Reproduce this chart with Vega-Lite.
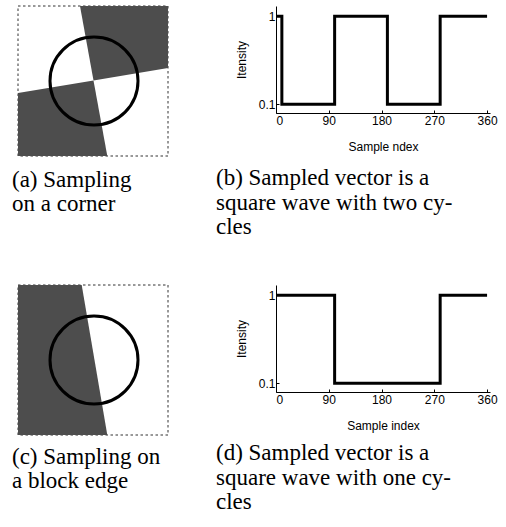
{
  "$schema": "https://vega.github.io/schema/vega-lite/v6.json",
  "background": "white",
  "padding": {"left": 12, "top": 4, "right": 0, "bottom": 0},
  "columns": 2,
  "spacing": {"column": 108, "row": 129},
  "bounds": "flush",
  "config": {
    "view": {"stroke": null},
    "title": {"font": "Liberation Serif", "fontSize": 23, "fontWeight": "normal", "color": "black", "anchor": "start", "frame": "group", "orient": "bottom", "baseline": "alphabetic", "lineHeight": 24.5},
    "axis": {"domainColor": "black", "tickColor": "black", "labelColor": "black", "titleColor": "black", "labelFont": "Liberation Sans", "titleFont": "Liberation Sans", "labelFontSize": 12, "titleFontSize": 12, "titleFontWeight": "normal", "grid": false, "tickSize": -3, "domainWidth": 1, "tickWidth": 1}
  },
  "datasets": {
    "border": [
      {"u": 0, "v": 0, "i": 0}, {"u": 150, "v": 0, "i": 1}, {"u": 150, "v": 150, "i": 2}, {"u": 0, "v": 150, "i": 3}, {"u": 0, "v": 0, "i": 4}
    ],
    "polyA": [
      {"part": "tr", "u": 62, "v": 0, "i": 0}, {"part": "tr", "u": 150, "v": 0, "i": 1}, {"part": "tr", "u": 150, "v": 62, "i": 2}, {"part": "tr", "u": 75.5, "v": 74.4, "i": 3},
      {"part": "bl", "u": 0, "v": 87, "i": 0}, {"part": "bl", "u": 75.5, "v": 74.4, "i": 1}, {"part": "bl", "u": 89.3, "v": 150, "i": 2}, {"part": "bl", "u": 0, "v": 150, "i": 3}
    ],
    "polyC": [
      {"part": "l", "u": 0, "v": 0, "i": 0}, {"part": "l", "u": 63.7, "v": 0, "i": 1}, {"part": "l", "u": 89.3, "v": 150, "i": 2}, {"part": "l", "u": 0, "v": 150, "i": 3}
    ],
    "circle": [{"u": 76, "v": 75}],
    "waveB": [
      {"x": 0, "y": 1, "i": 0}, {"x": 10, "y": 1, "i": 1}, {"x": 10, "y": 0.1, "i": 2}, {"x": 100, "y": 0.1, "i": 3}, {"x": 100, "y": 1, "i": 4},
      {"x": 190, "y": 1, "i": 5}, {"x": 190, "y": 0.1, "i": 6}, {"x": 280, "y": 0.1, "i": 7}, {"x": 280, "y": 1, "i": 8}, {"x": 360, "y": 1, "i": 9}
    ],
    "waveD": [
      {"x": 0, "y": 1, "i": 0}, {"x": 100, "y": 1, "i": 1}, {"x": 100, "y": 0.1, "i": 2}, {"x": 280, "y": 0.1, "i": 3}, {"x": 280, "y": 1, "i": 4}, {"x": 360, "y": 1, "i": 5}
    ]
  },
  "concat": [
    {
      "width": 150, "height": 150,
      "title": {"text": ["(a) Sampling", "on a corner"], "orient": "bottom", "dx": -6, "offset": 10.5},
      "layer": [
        {
          "data": {"name": "border"},
          "mark": {"type": "line", "strokeDash": [2.5, 2.5], "strokeWidth": 1, "color": "#333333"},
          "encoding": {
            "x": {"field": "u", "type": "quantitative", "scale": {"domain": [0, 150], "nice": false}, "axis": null},
            "y": {"field": "v", "type": "quantitative", "scale": {"domain": [0, 150], "nice": false, "reverse": true}, "axis": null},
            "order": {"field": "i"}
          }
        },
        {
          "data": {"name": "polyA"},
          "mark": {"type": "line", "filled": true, "color": "#4d4d4d", "strokeWidth": 0},
          "encoding": {
            "x": {"field": "u", "type": "quantitative"},
            "y": {"field": "v", "type": "quantitative"},
            "detail": {"field": "part"},
            "order": {"field": "i"}
          }
        },
        {
          "data": {"name": "circle"},
          "mark": {"type": "point", "shape": "circle", "size": 7744, "filled": false, "strokeWidth": 3, "color": "black", "opacity": 1},
          "encoding": {
            "x": {"field": "u", "type": "quantitative"},
            "y": {"field": "v", "type": "quantitative"}
          }
        }
      ]
    },
    {
      "width": 214, "height": 107,
      "title": {"text": ["(b) Sampled vector is a", "square wave with two cy-", "cles"], "orient": "bottom", "dx": -60, "offset": 15},
      "data": {"name": "waveB"},
      "mark": {"type": "line", "color": "black", "strokeWidth": 3, "strokeJoin": "miter"},
      "encoding": {
        "x": {"field": "x", "type": "quantitative", "scale": {"domain": [0, 365], "nice": false}, "axis": {"values": [0, 90, 180, 270, 360], "title": "Sample ndex", "format": "d", "labelPadding": 5, "titlePadding": 15}},
        "y": {"field": "y", "type": "quantitative", "scale": {"domain": [0.011, 1.105], "nice": false, "zero": false}, "axis": {"values": [0.1, 1], "title": "Itensity", "format": "~g", "labelPadding": 4, "titlePadding": 10}},
        "order": {"field": "i"}
      }
    },
    {
      "width": 150, "height": 150,
      "title": {"text": ["(c) Sampling on", "a block edge"], "orient": "bottom", "dx": -6, "offset": 8.5},
      "layer": [
        {
          "data": {"name": "border"},
          "mark": {"type": "line", "strokeDash": [2.5, 2.5], "strokeWidth": 1, "color": "#333333"},
          "encoding": {
            "x": {"field": "u", "type": "quantitative", "scale": {"domain": [0, 150], "nice": false}, "axis": null},
            "y": {"field": "v", "type": "quantitative", "scale": {"domain": [0, 150], "nice": false, "reverse": true}, "axis": null},
            "order": {"field": "i"}
          }
        },
        {
          "data": {"name": "polyC"},
          "mark": {"type": "line", "filled": true, "color": "#4d4d4d", "strokeWidth": 0},
          "encoding": {
            "x": {"field": "u", "type": "quantitative"},
            "y": {"field": "v", "type": "quantitative"},
            "detail": {"field": "part"},
            "order": {"field": "i"}
          }
        },
        {
          "data": {"name": "circle"},
          "mark": {"type": "point", "shape": "circle", "size": 7744, "filled": false, "strokeWidth": 3, "color": "black", "opacity": 1},
          "encoding": {
            "x": {"field": "u", "type": "quantitative"},
            "y": {"field": "v", "type": "quantitative"}
          }
        }
      ]
    },
    {
      "width": 214, "height": 107,
      "title": {"text": ["(d) Sampled vector is a", "square wave with one cy-", "cles"], "orient": "bottom", "dx": -60, "offset": 11},
      "data": {"name": "waveD"},
      "mark": {"type": "line", "color": "black", "strokeWidth": 3, "strokeJoin": "miter"},
      "encoding": {
        "x": {"field": "x", "type": "quantitative", "scale": {"domain": [0, 365], "nice": false}, "axis": {"values": [0, 90, 180, 270, 360], "title": "Sample index", "format": "d", "labelPadding": 5, "titlePadding": 15}},
        "y": {"field": "y", "type": "quantitative", "scale": {"domain": [0.011, 1.105], "nice": false, "zero": false}, "axis": {"values": [0.1, 1], "title": "Itensity", "format": "~g", "labelPadding": 4, "titlePadding": 10}},
        "order": {"field": "i"}
      }
    }
  ]
}
